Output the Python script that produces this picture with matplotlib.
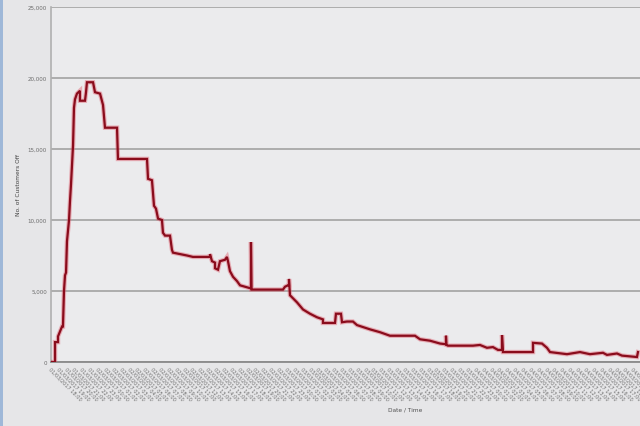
import matplotlib
matplotlib.use("Agg")
import matplotlib.pyplot as plt
from matplotlib.patches import Rectangle
from datetime import datetime, timedelta

# time since start (hours) and customers off
hours = [0.00, 0.51, 0.51, 0.89, 0.89, 1.40, 1.52, 1.65, 1.78, 1.91, 2.03, 2.29,
         2.41, 2.54, 2.80, 2.92, 3.05, 3.30, 3.68, 3.68, 4.32, 4.45, 4.57, 5.34,
         5.59, 6.23, 6.61, 6.86, 8.39, 8.51, 12.20, 12.33, 12.83, 13.09, 13.34,
         13.60, 14.10, 14.23, 14.49, 15.12, 15.37, 15.50, 17.28, 18.04, 20.20,
         20.20, 20.46, 20.84, 20.84, 21.22, 21.47, 22.11, 22.36, 22.49, 22.74,
         23.13, 23.63, 24.02, 24.65, 25.29, 25.41, 25.41, 25.48, 29.48, 29.73,
         30.11, 30.24, 30.24, 30.37, 31.26, 32.02, 32.91, 33.80, 34.56, 34.56,
         36.09, 36.21, 36.85, 36.98, 37.61, 38.37, 38.88, 40.53, 41.80, 43.07,
         46.25, 46.89, 48.16, 49.43, 50.19, 50.19, 50.25, 50.44, 53.62, 54.51,
         55.40, 56.16, 56.80, 57.31, 57.31, 57.43, 61.25, 61.25, 62.39, 63.02,
         63.41, 65.57, 67.22, 68.49, 70.14, 70.65, 71.92, 72.55, 74.46, 74.59]
customers = [0, 0, 1400, 1400, 1800, 2500, 2500, 5000, 6100, 6300, 8500, 10000,
             11300, 12500, 15250, 17900, 18500, 18900, 19100, 18400, 18400, 19000,
             19700, 19700, 19000, 18900, 18100, 16500, 16500, 14300, 14300, 12900,
             12800, 11000, 10800, 10100, 10000, 9100, 8900, 8900, 7900, 7700, 7500,
             7400, 7400, 7600, 7100, 7000, 6600, 6500, 7100, 7200, 7400, 7100, 6400,
             6000, 5700, 5400, 5300, 5200, 5200, 8450, 5100, 5100, 5300, 5400, 5400,
             5850, 4700, 4200, 3700, 3400, 3150, 3000, 2750, 2750, 3400, 3400, 2800,
             2850, 2850, 2600, 2300, 2100, 1850, 1850, 1600, 1500, 1300, 1250, 1850,
             1200, 1150, 1150, 1200, 1000, 1050, 850, 850, 1900, 700, 700, 1350,
             1300, 1000, 700, 550, 700, 550, 650, 500, 600, 450, 350, 700]

start = datetime(2017, 3, 1, 18, 0)
tick_hours = list(range(0, 75))
tick_labels = [(start + timedelta(hours=h)).strftime("%d/%m/%Y %H:%M") for h in tick_hours]
y_ticks = [0, 5000, 10000, 15000, 20000, 25000]
y_labels = ["0", "5,000", "10,000", "15,000", "20,000", "25,000"]

fig = plt.figure(figsize=(6.4, 4.27), dpi=100)
fig.patch.set_facecolor("#e6e6e8")
fig.patches.append(Rectangle((0, 0), 3 / 640, 1, transform=fig.transFigure,
                             facecolor="#9fb8d8", edgecolor="none"))

ax = fig.add_axes([51 / 640, 64 / 427, (642 - 51) / 640, (363 - 8) / 427])
ax.set_facecolor("#ebebed")

ax.plot(hours, customers, color="#e06070", lw=3.2, alpha=0.45, solid_joinstyle="miter", zorder=3)
ax.plot(hours, customers, color="#8a0c1c", lw=1.6, solid_joinstyle="miter", zorder=4)

ax.set_xlim(0, 75.1)
ax.set_ylim(0, 25000)
ax.set_yticks(y_ticks)
ax.set_yticklabels(y_labels, fontsize=4.0, color="#6a6a6a")
ax.set_xticks(tick_hours)
ax.set_xticklabels(tick_labels, fontsize=3.6, color="#6e6e6e", rotation=-45,
                   ha="left", va="top", rotation_mode="anchor")
ax.tick_params(axis="both", length=0, pad=3)
ax.grid(axis="y", color="#a8a8a8", lw=1.3)
ax.set_axisbelow(True)
for s in ["top", "right"]:
    ax.spines[s].set_visible(False)
ax.spines["left"].set_color("#b0b0b0")
ax.spines["left"].set_linewidth(1.2)
ax.spines["bottom"].set_color("#8a8a8a")
ax.spines["bottom"].set_linewidth(1.3)

fig.text(18 / 640, 1 - 185 / 427, "No. of Customers Off", rotation=90, fontsize=4.2,
         color="#404040", ha="center", va="center")
fig.text(405 / 640, 1 - 410 / 427, "Date / Time", fontsize=4.2, color="#505050",
         ha="center", va="center")

fig.savefig("out.png", dpi=100, facecolor=fig.get_facecolor())
